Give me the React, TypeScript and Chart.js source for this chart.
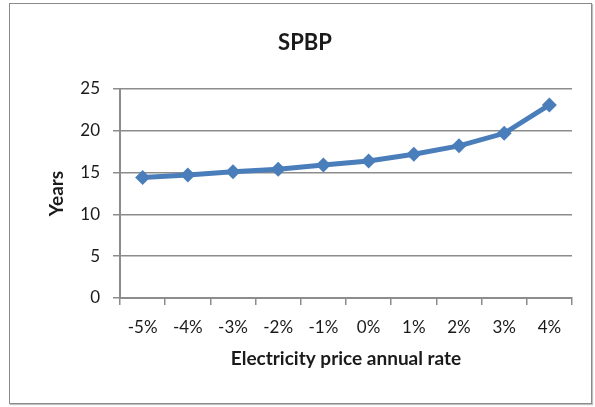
import React, { useEffect, useRef } from "react";
import { Chart, registerables } from "chart.js";

Chart.register(...registerables);

const categories = ["-5%", "-4%", "-3%", "-2%", "-1%", "0%", "1%", "2%", "3%", "4%"];
const spbpYears = [14.4, 14.7, 15.1, 15.4, 15.9, 16.4, 17.2, 18.2, 19.7, 23.1];
const chartTitle = "SPBP";
const xTitle = "Electricity price annual rate";
const yTitle = "Years";

const FONT = "Lato, 'Open Sans', sans-serif";
const BLUE = "#4a7ebb";
const GRID = "#8c8c8c";
const TEXT = "#1a1a1a";

export default function App() {
  const ref = useRef<HTMLCanvasElement | null>(null);
  useEffect(() => {
    if (!ref.current) return;
    const chart = new Chart(ref.current, {
      type: "line",
      data: {
        labels: categories,
        datasets: [
          {
            label: chartTitle,
            data: spbpYears,
            borderColor: BLUE,
            backgroundColor: BLUE,
            borderWidth: 5,
            pointStyle: "rectRot",
            pointRadius: 7.5,
            pointBorderWidth: 0,
            pointBackgroundColor: BLUE,
            tension: 0,
            yAxisID: "y",
          },
        ],
      },
      options: {
        responsive: false,
        animation: false,
        layout: { padding: { left: 15, right: 0, top: 0, bottom: 0 } },
        plugins: {
          legend: { display: false },
          tooltip: { enabled: false },
          title: {
            display: true,
            text: chartTitle,
            color: TEXT,
            font: { family: FONT, size: 22, weight: "bold" },
            padding: { top: 30, bottom: 32.6 },
          },
        },
        scales: {
          x: {
            type: "category",
            offset: true,
            grid: {
              display: true,
              offset: true,
              drawOnChartArea: false,
              drawTicks: true,
              tickLength: 7,
              color: GRID,
              lineWidth: 1.5,
            },
            border: { display: true, color: GRID, width: 2 },
            ticks: {
              color: TEXT,
              font: { family: FONT, size: 17 },
              padding: 12,
              maxRotation: 0,
              autoSkip: false,
            },
            title: {
              display: true,
              text: xTitle,
              color: TEXT,
              font: { family: FONT, size: 19, weight: "bold" },
              padding: { top: 0, bottom: 36.6 },
            },
            afterFit: (scale: any) => {
              scale.height = 109;
            },
          },
          y: {
            position: "left",
            min: 0,
            max: 25,
            ticks: {
              stepSize: 5,
              color: TEXT,
              font: { family: FONT, size: 17 },
              padding: 13,
            },
            grid: {
              color: GRID,
              lineWidth: 1.5,
              drawTicks: true,
              tickLength: 7,
            },
            border: { display: true, color: GRID, width: 2 },
            title: {
              display: true,
              text: yTitle,
              color: TEXT,
              font: { family: FONT, size: 19, weight: "bold" },
              padding: { top: 30.6, bottom: 0 },
            },
            afterFit: (scale: any) => {
              scale.width = 105;
            },
          },
          yRightSpace: {
            position: "right",
            display: true,
            min: 0,
            max: 25,
            ticks: { display: false },
            grid: { display: false, drawOnChartArea: false, drawTicks: false },
            border: { display: false },
            afterFit: (scale: any) => {
              scale.width = 23;
            },
          },
        },
      },
    });
    return () => chart.destroy();
  }, []);

  return (
    <div style={{ position: "fixed", left: 0, top: 0, width: 595, height: 407, background: "#fff" }}>
      <div
        style={{
          position: "absolute",
          left: 9,
          top: 3,
          width: 581,
          height: 399,
          border: "1px solid #8a8a8a",
          boxShadow: "1px 1px 1px #c0c0c0",
        }}
      />
      <canvas ref={ref} width={595} height={407} style={{ position: "absolute", left: 0, top: 0 }} />
    </div>
  );
}
